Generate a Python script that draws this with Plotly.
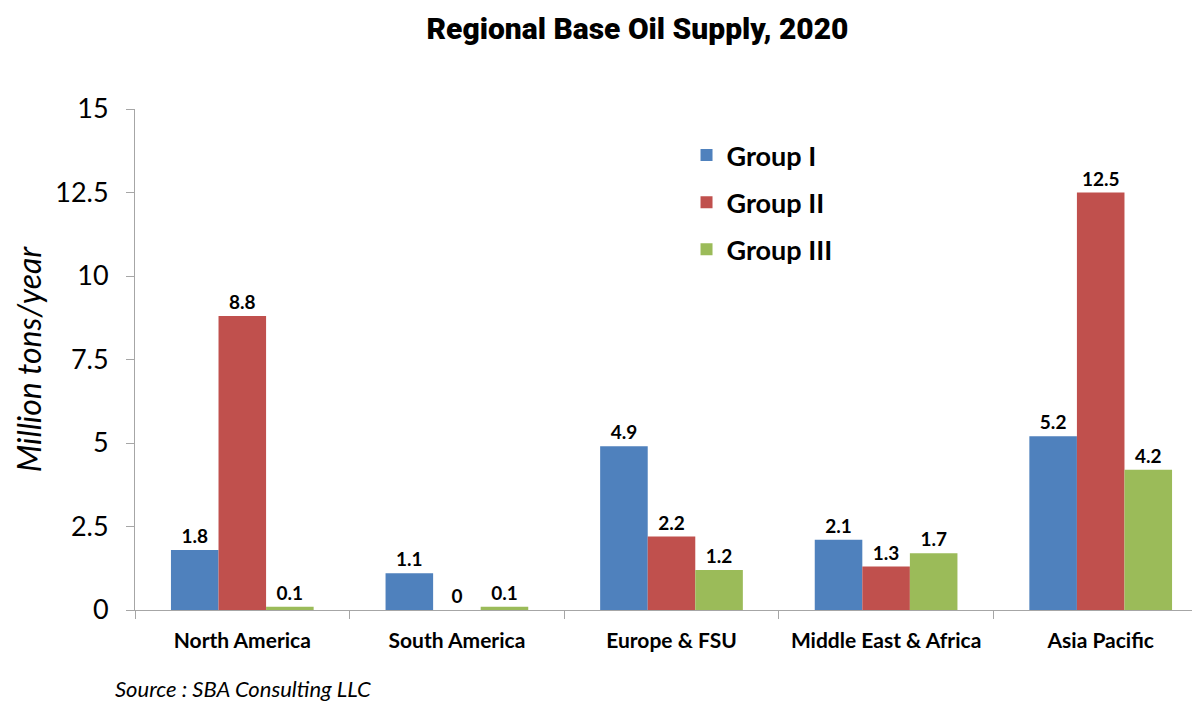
import plotly.graph_objects as go

regions = ["North America", "South America", "Europe & FSU", "Middle East & Africa", "Asia Pacific"]
group_1 = [1.8, 1.1, 4.9, 2.1, 5.2]
group_2 = [8.8, 0, 2.2, 1.3, 12.5]
group_3 = [0.1, 0.1, 1.2, 1.7, 4.2]
series_names = ["Group I", "Group II", "Group III"]
y_ticks = [0, 2.5, 5, 7.5, 10, 12.5, 15]

colors = ["#4F81BD", "#C0504D", "#9BBB59"]
body_font = "Lato, 'Open Sans', sans-serif"

fig = go.Figure()
for name, values, color in zip(series_names, [group_1, group_2, group_3], colors):
    fig.add_trace(go.Bar(
        x=regions,
        y=values,
        name=name,
        legendgroup=name,
        marker=dict(color=color, line=dict(width=0)),
        text=[f"<b>{v:g}</b>" for v in values],
        textposition="outside",
        cliponaxis=False,
        textfont=dict(family=body_font, size=19, color="black"),
    ))

# page body adds an 8px offset, margins compensate for it
fig.update_layout(
    width=1200,
    height=705,
    barmode="group",
    bargap=0.335,
    bargroupgap=0,
    plot_bgcolor="white",
    paper_bgcolor="white",
    margin=dict(l=127, r=0, t=101, b=103),
    title=dict(
        text="Regional Base Oil Supply, 2020",
        x=0.5246, xanchor="center", y=0.971, yanchor="middle",
        font=dict(family="Roboto, sans-serif", size=30, color="black", weight=900),
    ),
    legend=dict(
        x=0.514, y=0.956, xanchor="left", yanchor="top",
        font=dict(family=body_font, size=27, color="black", weight="bold"),
        traceorder="grouped",
        tracegroupgap=9,
        bgcolor="rgba(0,0,0,0)",
    ),
    annotations=[dict(
        text="<i>Source : SBA Consulting LLC</i>",
        x=-0.0205, y=-0.156, xref="paper", yref="paper", showarrow=False,
        font=dict(family=body_font, size=22, color="black"),
        xanchor="left", yanchor="middle",
    )],
)

fig.update_xaxes(
    range=[-0.5, 4.5],
    showline=True, linecolor="#A6A6A6", linewidth=1,
    ticks="outside", tickson="boundaries", ticklen=8, tickcolor="#A6A6A6",
    tickfont=dict(family=body_font, size=21, color="black", weight="bold"),
    ticklabelstandoff=12,
    showgrid=False,
)
fig.update_yaxes(
    range=[0, 15],
    tickvals=y_ticks,
    ticktext=[f"{v:g}" for v in y_ticks],
    showline=True, linecolor="#A6A6A6", linewidth=1,
    ticks="outside", ticklen=8, tickcolor="#A6A6A6",
    tickfont=dict(family=body_font, size=27, color="black"),
    ticklabelstandoff=12,
    showgrid=False, zeroline=False,
    title=dict(text="<i>Million tons/year</i>", font=dict(family=body_font, size=32, color="black"), standoff=4),
)

fig.write_html("out.html")
